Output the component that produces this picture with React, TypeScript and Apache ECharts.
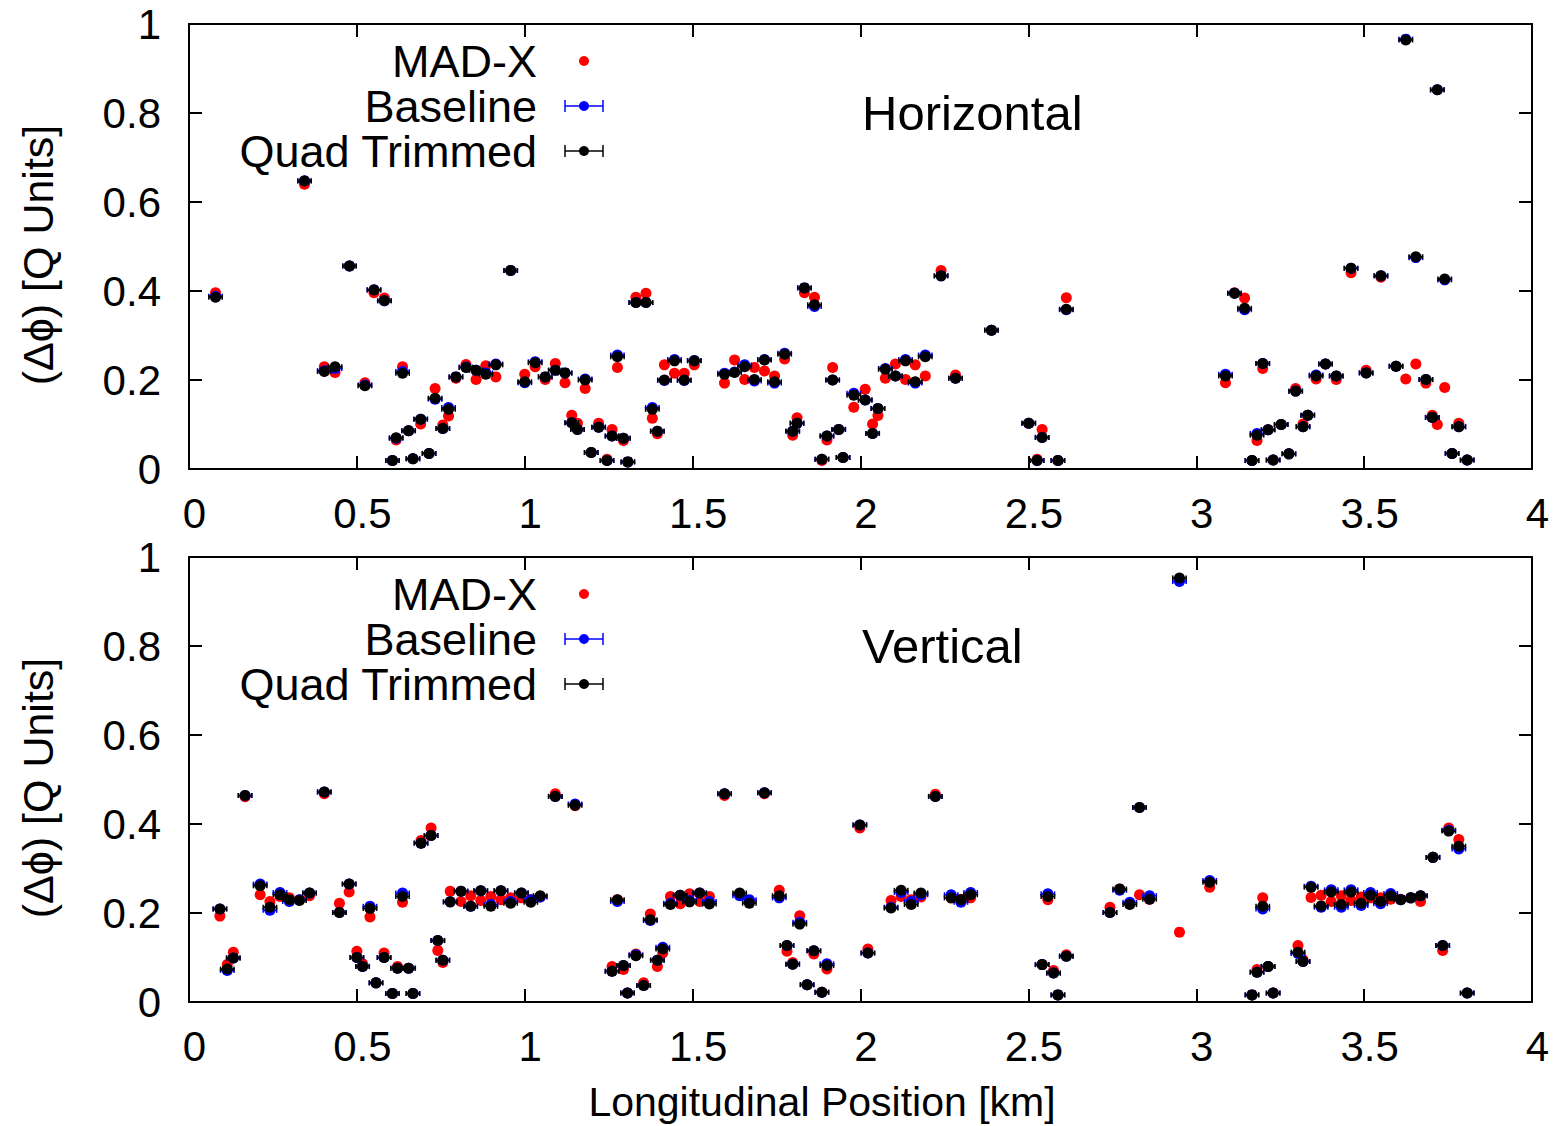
import React, { useEffect, useRef } from "react";
import * as echarts from "echarts";

// ---------- DATA ----------
// Horizontal panel
const hX = [0.079,0.344,0.403,0.435,0.478,0.524,0.551,0.582,0.606,0.617,0.636,0.654,0.667,0.690,0.715,0.733,0.756,0.773,0.795,0.825,0.855,0.884,0.914,0.958,1.000,1.031,1.061,1.091,1.120,1.140,1.157,1.180,1.198,1.220,1.245,1.260,1.276,1.294,1.307,1.331,1.361,1.380,1.395,1.416,1.446,1.475,1.505,1.595,1.625,1.655,1.684,1.714,1.744,1.774,1.798,1.811,1.833,1.863,1.885,1.900,1.917,1.935,1.948,1.980,2.014,2.036,2.052,2.074,2.104,2.134,2.163,2.193,2.240,2.283,2.390,2.501,2.526,2.541,2.588,2.613,3.087,3.114,3.144,3.166,3.181,3.198,3.214,3.229,3.253,3.276,3.296,3.318,3.332,3.357,3.385,3.417,3.461,3.506,3.550,3.595,3.624,3.654,3.684,3.703,3.718,3.740,3.762,3.782,3.807];
const hMadx = [0.396,0.640,0.230,0.217,0.456,0.194,0.396,0.384,0.019,0.065,0.230,0.086,0.023,0.101,0.035,0.181,0.099,0.119,0.204,0.235,0.201,0.232,0.207,0.446,0.213,0.230,0.201,0.237,0.194,0.121,0.103,0.181,0.037,0.103,0.022,0.089,0.228,0.064,0.016,0.386,0.395,0.114,0.079,0.234,0.215,0.215,0.234,0.193,0.245,0.201,0.228,0.220,0.209,0.247,0.076,0.115,0.396,0.386,0.019,0.065,0.228,0.089,0.026,0.139,0.179,0.101,0.120,0.204,0.236,0.201,0.234,0.209,0.446,0.211,0.312,0.103,0.022,0.089,0.019,0.385,0.194,0.396,0.384,0.019,0.064,0.226,0.088,0.020,0.100,0.034,0.181,0.101,0.121,0.202,0.236,0.201,0.441,0.222,0.431,0.231,0.202,0.236,0.193,0.121,0.100,0.183,0.035,0.103,0.020];
const hBase = [0.388,0.648,0.221,0.226,0.456,0.189,0.403,0.378,0.019,0.069,0.219,0.086,0.023,0.112,0.035,0.157,0.091,0.138,0.207,0.229,0.222,0.216,0.236,0.446,0.194,0.241,0.207,0.222,0.216,0.104,0.089,0.202,0.037,0.094,0.019,0.074,0.256,0.069,0.016,0.374,0.374,0.138,0.085,0.199,0.246,0.199,0.244,0.215,0.218,0.234,0.198,0.246,0.193,0.260,0.085,0.103,0.407,0.365,0.022,0.074,0.200,0.089,0.026,0.170,0.155,0.080,0.136,0.226,0.209,0.246,0.193,0.256,0.434,0.204,0.312,0.103,0.019,0.071,0.019,0.358,0.213,0.395,0.358,0.019,0.080,0.237,0.088,0.020,0.100,0.034,0.175,0.095,0.121,0.211,0.236,0.209,0.451,0.216,0.434,0.231,0.966,0.475,0.201,0.116,0.852,0.425,0.035,0.095,0.020];
const hTrim = [0.386,0.647,0.219,0.230,0.456,0.187,0.402,0.378,0.019,0.070,0.215,0.086,0.023,0.112,0.035,0.159,0.091,0.134,0.207,0.228,0.222,0.213,0.234,0.446,0.196,0.239,0.207,0.222,0.216,0.104,0.089,0.200,0.037,0.094,0.019,0.074,0.252,0.069,0.016,0.374,0.374,0.134,0.085,0.200,0.243,0.200,0.243,0.213,0.217,0.230,0.201,0.245,0.196,0.258,0.085,0.103,0.407,0.369,0.022,0.074,0.200,0.089,0.026,0.166,0.155,0.080,0.136,0.224,0.209,0.243,0.196,0.252,0.434,0.204,0.312,0.103,0.019,0.071,0.019,0.359,0.209,0.395,0.361,0.019,0.076,0.237,0.088,0.020,0.100,0.034,0.175,0.095,0.121,0.209,0.236,0.209,0.451,0.216,0.434,0.231,0.964,0.477,0.201,0.116,0.852,0.427,0.035,0.095,0.020];

// Vertical panel
const vX = [0.092,0.114,0.132,0.167,0.212,0.241,0.271,0.299,0.329,0.359,0.403,0.448,0.477,0.500,0.517,0.539,0.557,0.581,0.606,0.621,0.636,0.654,0.667,0.691,0.721,0.741,0.756,0.778,0.810,0.839,0.869,0.899,0.929,0.958,0.990,1.018,1.046,1.091,1.150,1.260,1.276,1.294,1.306,1.331,1.354,1.374,1.395,1.411,1.434,1.463,1.491,1.521,1.550,1.595,1.640,1.669,1.714,1.758,1.781,1.798,1.819,1.841,1.861,1.885,1.900,1.998,2.022,2.091,2.121,2.151,2.180,2.223,2.270,2.299,2.328,2.541,2.558,2.575,2.588,2.613,2.743,2.772,2.802,2.831,2.861,2.950,3.040,3.166,3.181,3.198,3.214,3.229,3.303,3.318,3.342,3.372,3.402,3.432,3.461,3.491,3.519,3.549,3.579,3.609,3.639,3.668,3.705,3.734,3.752,3.782,3.807];
const vMadx = [0.193,0.084,0.112,0.461,0.241,0.226,0.237,0.234,0.230,0.239,0.468,0.222,0.247,0.114,0.086,0.191,0.043,0.110,0.019,0.080,0.224,0.076,0.019,0.363,0.391,0.116,0.089,0.249,0.226,0.239,0.228,0.237,0.230,0.234,0.234,0.230,0.236,0.468,0.441,0.080,0.230,0.073,0.020,0.108,0.043,0.198,0.080,0.110,0.237,0.221,0.243,0.226,0.237,0.464,0.243,0.226,0.468,0.251,0.114,0.089,0.194,0.039,0.108,0.022,0.074,0.391,0.119,0.228,0.237,0.230,0.236,0.467,0.234,0.231,0.234,0.084,0.230,0.071,0.016,0.106,0.213,0.254,0.222,0.241,0.231,0.157,0.258,0.016,0.073,0.234,0.080,0.020,0.127,0.095,0.235,0.240,0.226,0.239,0.228,0.236,0.234,0.234,0.231,0.231,0.234,0.226,0.325,0.116,0.391,0.365,0.020];
const vBase = [0.209,0.071,0.099,0.464,0.265,0.206,0.246,0.226,0.230,0.245,0.472,0.201,0.265,0.100,0.080,0.215,0.043,0.100,0.019,0.076,0.245,0.076,0.019,0.357,0.374,0.138,0.094,0.225,0.249,0.215,0.250,0.219,0.250,0.226,0.245,0.230,0.236,0.462,0.445,0.069,0.226,0.082,0.020,0.106,0.037,0.183,0.094,0.123,0.222,0.240,0.228,0.245,0.226,0.468,0.239,0.230,0.470,0.234,0.127,0.085,0.179,0.039,0.115,0.022,0.086,0.398,0.110,0.213,0.246,0.226,0.241,0.462,0.241,0.224,0.246,0.084,0.243,0.065,0.016,0.103,0.201,0.251,0.224,0.437,0.239,0.945,0.273,0.016,0.067,0.209,0.080,0.020,0.109,0.091,0.260,0.213,0.252,0.213,0.252,0.217,0.246,0.221,0.244,0.230,0.234,0.239,0.325,0.127,0.386,0.344,0.020];
const vTrim = [0.209,0.074,0.099,0.464,0.261,0.213,0.241,0.230,0.228,0.245,0.472,0.201,0.265,0.100,0.080,0.210,0.043,0.100,0.019,0.076,0.237,0.076,0.019,0.357,0.374,0.138,0.094,0.225,0.249,0.215,0.250,0.215,0.250,0.222,0.245,0.224,0.239,0.462,0.442,0.069,0.230,0.082,0.020,0.104,0.037,0.185,0.094,0.119,0.219,0.240,0.225,0.245,0.220,0.468,0.245,0.222,0.470,0.239,0.127,0.085,0.175,0.039,0.115,0.022,0.082,0.398,0.110,0.211,0.251,0.219,0.245,0.462,0.234,0.230,0.241,0.084,0.237,0.065,0.016,0.103,0.201,0.254,0.219,0.437,0.231,0.953,0.269,0.016,0.067,0.215,0.080,0.020,0.112,0.091,0.258,0.216,0.247,0.219,0.247,0.222,0.240,0.226,0.239,0.230,0.234,0.239,0.325,0.127,0.384,0.350,0.020];

const POS_ERR = 0.02; // km, horizontal error bar half-width
const xTicks = { min: 0, max: 4, interval: 0.5 };
const yTicks = { min: 0, max: 1, interval: 0.2 };
const panelLabels = ["Horizontal", "Vertical"];
const legendNames = ["MAD-X", "Baseline", "Quad Trimmed"];
const yTitle = "(Δϕ) [Q Units]";
const xTitle = "Longitudinal Position [km]";

const RED = "#ff0000";
const BLUE = "#0000ff";
const BLACK = "#000000";
const FONT = "'Liberation Sans', Arial, Helvetica, sans-serif";

function pts(xs: number[], ys: number[]) {
  return xs.map((x, i) => [x, ys[i]]);
}

function errRender(color: string) {
  return (params: any, api: any) => {
    const x = api.value(0);
    const y = api.value(1);
    const a = api.coord([x - POS_ERR, y]);
    const b = api.coord([x + POS_ERR, y]);
    const cap = 2.5;
    const style = { stroke: color, lineWidth: 1.5, fill: null };
    return {
      type: "group",
      children: [
        { type: "line", shape: { x1: a[0], y1: a[1], x2: b[0], y2: b[1] }, style },
        { type: "line", shape: { x1: a[0], y1: a[1] - cap, x2: a[0], y2: a[1] + cap }, style },
        { type: "line", shape: { x1: b[0], y1: b[1] - cap, x2: b[0], y2: b[1] + cap }, style },
      ],
    };
  };
}

export default function App() {
  const ref = useRef<HTMLDivElement>(null);
  useEffect(() => {
    if (!ref.current) return;
    const chart = echarts.init(ref.current, null, { renderer: "svg" });

    const gridTops = [24, 557];
    const grids = gridTops.map((t) => ({ left: 189, top: t, width: 1343, height: 445 }));

    const axisLine = { show: true, onZero: false, lineStyle: { color: BLACK, width: 2 } };
    const tick = { show: true, inside: true, length: 13, lineStyle: { color: BLACK, width: 2 } };
    const labelStyle = { color: BLACK, fontSize: 42, fontFamily: FONT };

    const xAxes: any[] = [];
    const yAxes: any[] = [];
    [0, 1].forEach((g) => {
      xAxes.push({
        type: "value", gridIndex: g, position: "bottom", ...xTicks,
        axisLine, axisTick: tick, splitLine: { show: false },
        axisLabel: { ...labelStyle, margin: 23, padding: [0, 0, 0, 11] },
      });
      xAxes.push({
        type: "value", gridIndex: g, position: "top", ...xTicks,
        axisLine, axisTick: tick, splitLine: { show: false },
        axisLabel: { show: false },
      });
      yAxes.push({
        type: "value", gridIndex: g, position: "left", ...yTicks,
        axisLine, axisTick: tick, splitLine: { show: false },
        axisLabel: { ...labelStyle, margin: 28 },
      });
      yAxes.push({
        type: "value", gridIndex: g, position: "right", ...yTicks,
        axisLine, axisTick: tick, splitLine: { show: false },
        axisLabel: { show: false },
      });
    });

    const panels = [
      { x: hX, m: hMadx, b: hBase, t: hTrim },
      { x: vX, m: vMadx, b: vBase, t: vTrim },
    ];
    const series: any[] = [];
    panels.forEach((p, g) => {
      const ax = { xAxisIndex: g * 2, yAxisIndex: g * 2 };
      series.push({
        type: "scatter", name: "MAD-X", ...ax, data: pts(p.x, p.m),
        symbol: "circle", symbolSize: 11, itemStyle: { color: RED, opacity: 1 }, z: 2,
      });
      series.push({
        type: "custom", name: "Baseline err", ...ax, data: pts(p.x, p.b),
        renderItem: errRender(BLUE), z: 3,
      });
      series.push({
        type: "scatter", name: "Baseline", ...ax, data: pts(p.x, p.b),
        symbol: "circle", symbolSize: 11, itemStyle: { color: BLUE, opacity: 1 }, z: 3,
      });
      series.push({
        type: "custom", name: "Quad Trimmed err", ...ax, data: pts(p.x, p.t),
        renderItem: errRender(BLACK), z: 4,
      });
      series.push({
        type: "scatter", name: "Quad Trimmed", ...ax, data: pts(p.x, p.t),
        symbol: "circle", symbolSize: 11, itemStyle: { color: BLACK, opacity: 1 }, z: 4,
      });
    });

    const graphic: any[] = [];
    const legendFont = `45px ${FONT}`;
    [0, 533].forEach((oy, g) => {
      // legend
      const rows = [61, 106, 151].map((y) => y + oy);
      legendNames.forEach((n, i) => {
        graphic.push({
          type: "text", x: 537, y: rows[i],
          style: {
            text: n, font: legendFont, lineHeight: 38, fill: BLACK,
            textAlign: "right", textVerticalAlign: "middle",
          },
        });
      });
      graphic.push({ type: "circle", shape: { cx: 584, cy: rows[0], r: 5 }, style: { fill: RED } });
      [[BLUE, rows[1]], [BLACK, rows[2]]].forEach(([c, y]: any) => {
        const st = { stroke: c, lineWidth: 1.5 };
        graphic.push({ type: "line", shape: { x1: 565, y1: y, x2: 603, y2: y }, style: st });
        graphic.push({ type: "line", shape: { x1: 565, y1: y - 6, x2: 565, y2: y + 6 }, style: st });
        graphic.push({ type: "line", shape: { x1: 603, y1: y - 6, x2: 603, y2: y + 6 }, style: st });
        graphic.push({ type: "circle", shape: { cx: 584, cy: y, r: 5 }, style: { fill: c } });
      });
      // panel label
      graphic.push({
        type: "text", x: 862, y: 113 + oy,
        style: { text: panelLabels[g], font: `49px ${FONT}`, fill: BLACK, textAlign: "left", textVerticalAlign: "middle" },
      });
      // y axis title
      graphic.push({
        type: "text", x: 38, y: 255 + oy, rotation: Math.PI / 2,
        style: { text: yTitle, font: `43px ${FONT}`, fill: BLACK, textAlign: "center", textVerticalAlign: "middle" },
      });
    });
    graphic.push({
      type: "text", x: 822, y: 1102,
      style: { text: xTitle, font: `41px ${FONT}`, fill: BLACK, textAlign: "center", textVerticalAlign: "middle" },
    });

    chart.setOption({
      animation: false,
      backgroundColor: "#ffffff",
      grid: grids,
      xAxis: xAxes,
      yAxis: yAxes,
      series,
      graphic,
    });
    return () => chart.dispose();
  }, []);

  return (
    <div
      ref={ref}
      style={{ position: "absolute", left: 0, top: 0, width: 1564, height: 1126, background: "#fff" }}
    />
  );
}
